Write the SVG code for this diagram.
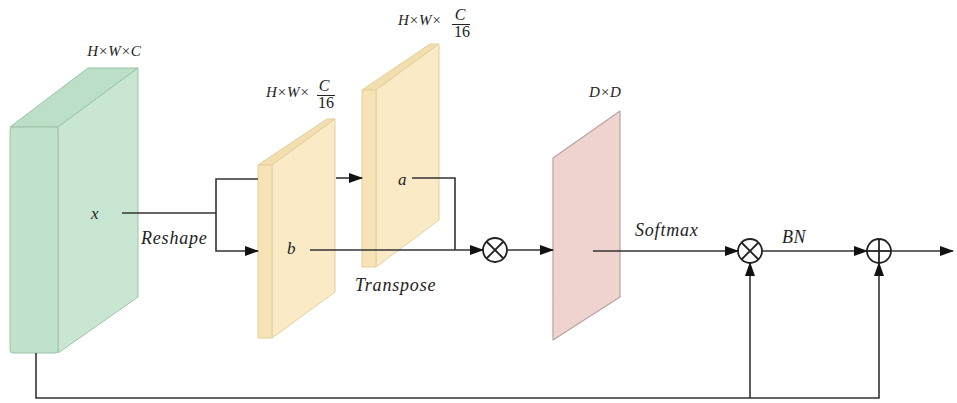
<svg xmlns="http://www.w3.org/2000/svg" width="957" height="403" viewBox="0 0 957 403">
<style>
.t{font-style:italic;fill:#222}
.n{fill:#222}
.ln{fill:none;stroke:#333;stroke-width:1.6}
.g{stroke:#9cc3a8;stroke-width:1;stroke-linejoin:round}
.y{stroke:#e3cf9a;stroke-width:1;stroke-linejoin:round}
.p{stroke:#b9a3a0;stroke-width:1.2;stroke-linejoin:round}
.op{fill:#fff;stroke:#222;stroke-width:1.8}
</style>
<defs>
<marker id="ah" markerUnits="userSpaceOnUse" markerWidth="14" markerHeight="10" refX="13" refY="5" orient="auto">
<path d="M0,0 L14,5 L0,10 z" fill="#111"/>
</marker>
</defs>
<rect width="957" height="403" fill="#fff"/>
<g font-family="Liberation Serif, DejaVu Serif, serif">
<g id="x-tensor">
<polygon class="g" points="10,127 88,68 138,68 58,127" fill="#bcdfc7"/>
<polygon class="g" points="58,127 138,68 138,297 58,353" fill="#c9e6d2"/>
<rect class="g" x="10" y="127" width="48" height="226" rx="3" fill="#c1e2cb"/>
<text class="t" x="91" y="219" font-size="17">x</text>
<text class="t" x="114" y="56" font-size="15" text-anchor="middle">H×W×C</text>
</g>

<g id="b-tensor">
<polygon class="y" points="258,165 327,119 335,119 272,165" fill="#f3deb0"/>
<polygon class="y" points="272,165 335,119 335,292 272,338" fill="#faebc6"/>
<rect class="y" x="258" y="165" width="14" height="173" fill="#f7e4b6"/>
<text class="t" x="287" y="254" font-size="17">b</text>
<text class="t" x="266" y="97" font-size="15">H×W×</text>
<text class="t" x="324" y="91" font-size="16" text-anchor="middle">C</text>
<line x1="317" y1="95.5" x2="335" y2="95.5" stroke="#222" stroke-width="1"/>
<text class="n" x="326" y="108" font-size="16" text-anchor="middle">16</text>
</g>

<g id="a-tensor">
<polygon class="y" points="362,90 430,44 439,44 376,90" fill="#f3deb0"/>
<polygon class="y" points="376,90 439,44 439,220 376,267" fill="#faebc6"/>
<rect class="y" x="362" y="90" width="14" height="177" fill="#f7e4b6"/>
<text class="t" x="398" y="185" font-size="17">a</text>
<text class="t" x="398" y="25" font-size="15">H×W×</text>
<text class="t" x="460" y="20" font-size="16" text-anchor="middle">C</text>
<line x1="452" y1="24.5" x2="470" y2="24.5" stroke="#222" stroke-width="1"/>
<text class="n" x="462" y="37" font-size="16" text-anchor="middle">16</text>
</g>

<g id="attention-map">
<polygon class="p" points="553,158 620,111 620,297 553,340" fill="#efd3cf"/>
<text class="t" x="605" y="97" font-size="15" text-anchor="middle">D×D</text>
</g>

<g id="mul1">
<circle class="op" cx="495" cy="250" r="12"/>
<line x1="486.5" y1="241.5" x2="503.5" y2="258.5" stroke="#222" stroke-width="1.8"/>
<line x1="503.5" y1="241.5" x2="486.5" y2="258.5" stroke="#222" stroke-width="1.8"/>
</g>

<g id="mul2">
<circle class="op" cx="750" cy="251" r="12"/>
<line x1="741.5" y1="242.5" x2="758.5" y2="259.5" stroke="#222" stroke-width="1.8"/>
<line x1="758.5" y1="242.5" x2="741.5" y2="259.5" stroke="#222" stroke-width="1.8"/>
</g>

<g id="add">
<circle class="op" cx="879" cy="251" r="12"/>
<line x1="867" y1="251" x2="891" y2="251" stroke="#222" stroke-width="1.8"/>
<line x1="879" y1="239" x2="879" y2="263" stroke="#222" stroke-width="1.8"/>
</g>

<g id="connectors">
<polyline class="ln" points="122,213 216,213"/>
<polyline class="ln" points="258,179 216,179 216,251 258,251" marker-end="url(#ah)"/>
<line class="ln" x1="336" y1="178" x2="362" y2="178" marker-end="url(#ah)"/>
<polyline class="ln" points="412,178 455,178 455,250"/>
<line class="ln" x1="310" y1="250" x2="483" y2="250" marker-end="url(#ah)"/>
<line class="ln" x1="507" y1="250" x2="553" y2="250" marker-end="url(#ah)"/>
<line class="ln" x1="593" y1="251" x2="738" y2="251" marker-end="url(#ah)"/>
<line class="ln" x1="762" y1="251" x2="867" y2="251" marker-end="url(#ah)"/>
<line class="ln" x1="891" y1="251" x2="953" y2="251" marker-end="url(#ah)"/>
<polyline class="ln" points="36,353 36,398 879,398 879,263" marker-end="url(#ah)"/>
<line class="ln" x1="750" y1="398" x2="750" y2="263" marker-end="url(#ah)"/>
<text class="t" x="141" y="244" font-size="18" letter-spacing="0.8">Reshape</text>
<text class="t" x="355" y="291" font-size="18" letter-spacing="0.8">Transpose</text>
<text class="t" x="635" y="236" font-size="18" letter-spacing="0.8">Softmax</text>
<text class="t" x="782" y="243" font-size="18" letter-spacing="0.5">BN</text>
</g>
</g>
</svg>
